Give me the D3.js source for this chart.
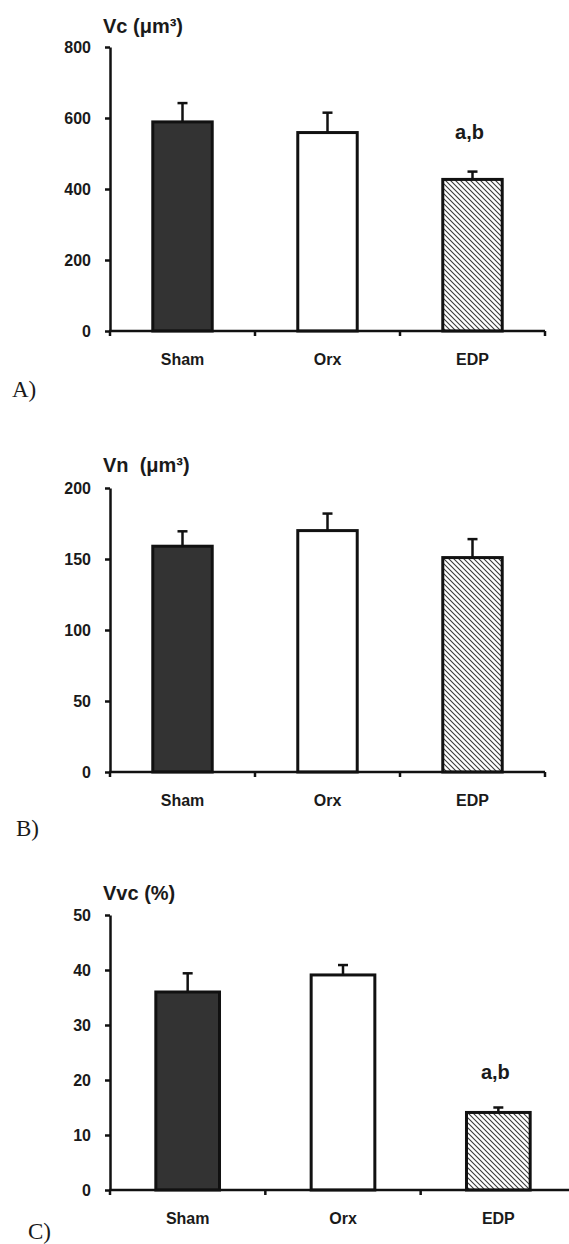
<!DOCTYPE html>
<html>
<head>
<meta charset="utf-8">
<script src="https://cdn.jsdelivr.net/npm/d3@7"></script>
<style>
  body { margin: 0; background: #fff; }
  text { font-family: "Liberation Sans", Arial, sans-serif; font-weight: bold; fill: #1a1a1a; }
  .plabel { font-family: "Liberation Serif", "Times New Roman", serif; font-weight: normal; }
</style>
</head>
<body>
<div id="chart"></div>
<script>
// groups on the x axis
var groups = ["Sham", "Orx", "EDP"];
var notes = ["", "", "a,b"];

// A) Vc
var vcMean = [589, 559, 427];
var vcSem = [53, 56, 22];
var vcTicks = [0, 200, 400, 600, 800];

// B) Vn
var vnMean = [159, 170, 151];
var vnSem = [10.5, 12, 13];
var vnTicks = [0, 50, 100, 150, 200];

// C) Vvc
var vvcMean = [36, 39.1, 14.1];
var vvcSem = [3.4, 1.8, 0.9];
var vvcTicks = [0, 10, 20, 30, 40, 50];

var svg = d3.select("#chart")
  .append("svg")
    .attr("width", 569)
    .attr("height", 1244);

// hatch for EDP
svg.append("defs").append("pattern")
    .attr("id", "hatch")
    .attr("patternUnits", "userSpaceOnUse")
    .attr("width", 5)
    .attr("height", 5)
  .append("path")
    .attr("d", "M0,0 L5,5 M-1,4 L1,6 M4,-1 L6,1")
    .attr("stroke", "#3a3a3a")
    .attr("stroke-width", 1.1);

var fills = ["#333333", "#ffffff", "url(#hatch)"];

function drawPanel(opt, mean, sem, ticks, title, letter) {
  var g = svg.append("g");

  var x = d3.scaleBand()
    .domain(groups)
    .range([opt.x0, opt.x1])
    .paddingInner(0.59)
    .paddingOuter(0.295);

  var y = d3.scaleLinear()
    .domain([0, d3.max(ticks)])
    .range([opt.y0, opt.yTop]);

  var step = x.step();

  // bars
  g.selectAll(".bar")
    .data(groups)
    .enter().append("rect")
      .attr("x", function(d) { return x(d); })
      .attr("y", function(d, i) { return y(mean[i]); })
      .attr("width", x.bandwidth())
      .attr("height", function(d, i) { return y(0) - y(mean[i]); })
      .attr("fill", function(d, i) { return fills[i]; })
      .attr("stroke", "#111")
      .attr("stroke-width", 3);

  // error bars (upper only)
  groups.forEach(function(d, i) {
    var cx = x(d) + x.bandwidth() / 2;
    g.append("line")
      .attr("x1", cx).attr("x2", cx)
      .attr("y1", y(mean[i])).attr("y2", y(mean[i] + sem[i]))
      .attr("stroke", "#111").attr("stroke-width", 2.5);
    g.append("line")
      .attr("x1", cx - 5).attr("x2", cx + 5)
      .attr("y1", y(mean[i] + sem[i])).attr("y2", y(mean[i] + sem[i]))
      .attr("stroke", "#111").attr("stroke-width", 2.5);
    if (notes[i] && opt.notes) {
      g.append("text")
        .attr("x", cx - 3)
        .attr("y", y(mean[i] + sem[i]) - opt.noteGap)
        .attr("text-anchor", "middle")
        .style("font-size", "20px")
        .text(notes[i]);
    }
  });

  // y axis
  var yAxis = g.append("g")
    .attr("transform", "translate(" + opt.x0 + ",0)")
    .call(d3.axisLeft(y).tickValues(ticks).tickSize(5).tickSizeOuter(0).tickPadding(14));
  yAxis.select(".domain").attr("stroke", "#111").attr("stroke-width", 2.5);
  yAxis.selectAll(".tick line").attr("stroke", "#111").attr("stroke-width", 2.5);
  yAxis.selectAll(".tick text")
    .style("font-size", "16px")
    .attr("dy", "0.35em")
    .attr("fill", "#1a1a1a");

  // x axis: ticks on slot boundaries
  var bounds = d3.range(groups.length + 1).map(function(k) { return opt.x0 + k * step; });
  g.append("line")
    .attr("x1", opt.x0 - 1).attr("x2", opt.x1)
    .attr("y1", opt.y0).attr("y2", opt.y0)
    .attr("stroke", "#111").attr("stroke-width", 2.5);
  g.selectAll(".xt")
    .data(bounds)
    .enter().append("line")
      .attr("x1", function(d) { return d; })
      .attr("x2", function(d) { return d; })
      .attr("y1", opt.y0)
      .attr("y2", opt.y0 + 5)
      .attr("stroke", "#111")
      .attr("stroke-width", 2.5);

  g.selectAll(".xl")
    .data(groups)
    .enter().append("text")
      .attr("x", function(d) { return x(d) + x.bandwidth() / 2; })
      .attr("y", opt.y0 + 34)
      .attr("text-anchor", "middle")
      .style("font-size", "16px")
      .text(function(d) { return d; });

  // title
  g.append("text")
    .attr("x", 103)
    .attr("y", opt.titleY)
    .style("font-size", "20px")
    .style("white-space", "pre")
    .attr("xml:space", "preserve")
    .text(title);

  // panel letter
  g.append("text")
    .attr("class", "plabel")
    .attr("x", opt.letterX)
    .attr("y", opt.letterY)
    .style("font-size", "23px")
    .text(letter);
}

drawPanel({x0: 110, x1: 545, y0: 331, yTop: 47, titleY: 33, letterX: 12, letterY: 397, notes: true, noteGap: 33},
  vcMean, vcSem, vcTicks, "Vc (\u03bcm\u00b3)", "A)");
drawPanel({x0: 110, x1: 545, y0: 772, yTop: 488, titleY: 472, letterX: 16, letterY: 836, notes: false, noteGap: 0},
  vnMean, vnSem, vnTicks, "Vn  (\u03bcm\u00b3)", "B)");
drawPanel({x0: 110, x1: 576, y0: 1190, yTop: 915, titleY: 900, letterX: 28, letterY: 1239, notes: true, noteGap: 29},
  vvcMean, vvcSem, vvcTicks, "Vvc (%)", "C)");
</script>
</body>
</html>
